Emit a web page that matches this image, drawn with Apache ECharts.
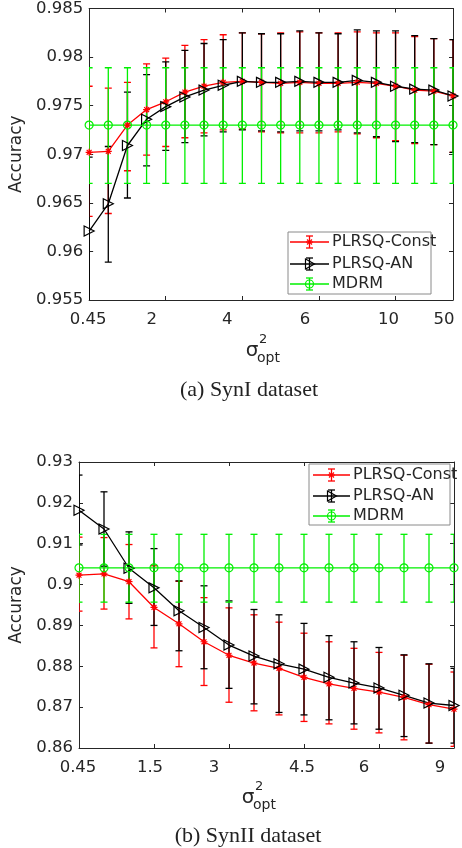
<!DOCTYPE html>
<html>
<head>
<meta charset="utf-8">
<script src="https://cdn.jsdelivr.net/npm/echarts@6.0.0/dist/echarts.min.js"></script>
<style>
html,body{margin:0;padding:0;background:#fff;}
#chart{width:462px;height:848px;}
</style>
</head>
<body>
<div id="chart"></div>
<script>
// ---------- DATA ----------
// (a) SynI dataset : 20 sigma^2_opt settings
const topCategories = ['0.45','','','','2','','','','4','','','','6','','','','10','','','50'];
const topConstMean  = [0.9702,0.9703,0.9730,0.9746,0.9754,0.9764,0.9770,0.9774,0.9775,0.9774,0.9773,0.9774,0.9773,0.9773,0.9774,0.9773,0.9770,0.9766,0.9765,0.9760];
const topConstUpper = [0.9770,0.9768,0.9774,0.9793,0.9799,0.9812,0.9818,0.9823,0.9825,0.9824,0.9825,0.9826,0.9825,0.9825,0.9826,0.9825,0.9825,0.9821,0.9819,0.9818];
const topConstLower = [0.9636,0.9639,0.9683,0.9699,0.9708,0.9717,0.9722,0.9725,0.9726,0.9723,0.9722,0.9722,0.9722,0.9723,0.9721,0.9717,0.9714,0.9711,0.9710,0.9702];
const topAnMean     = [0.9621,0.9649,0.9709,0.9736,0.9749,0.9759,0.9766,0.9771,0.9775,0.9774,0.9774,0.9775,0.9774,0.9774,0.9776,0.9774,0.9770,0.9767,0.9766,0.9760];
const topAnUpper    = [0.9697,0.9708,0.9764,0.9782,0.9795,0.9807,0.9814,0.9818,0.9825,0.9824,0.9824,0.9827,0.9825,0.9824,0.9828,0.9827,0.9827,0.9822,0.9819,0.9818];
const topAnLower    = [0.9545,0.9589,0.9655,0.9688,0.9704,0.9712,0.9719,0.9723,0.9725,0.9724,0.9723,0.9724,0.9724,0.9725,0.9722,0.9718,0.9713,0.9712,0.9710,0.9702];
const topMdrmMean   = [0.9730,0.9730,0.9730,0.9730,0.9730,0.9730,0.9730,0.9730,0.9730,0.9730,0.9730,0.9730,0.9730,0.9730,0.9730,0.9730,0.9730,0.9730,0.9730,0.9730];
const topMdrmUpper  = [0.9789,0.9789,0.9789,0.9789,0.9789,0.9789,0.9789,0.9789,0.9789,0.9789,0.9789,0.9789,0.9789,0.9789,0.9789,0.9789,0.9789,0.9789,0.9789,0.9789];
const topMdrmLower  = [0.9670,0.9670,0.9670,0.9670,0.9670,0.9670,0.9670,0.9670,0.9670,0.9670,0.9670,0.9670,0.9670,0.9670,0.9670,0.9670,0.9670,0.9670,0.9670,0.9670];

// (b) SynII dataset : 16 sigma^2_opt settings
const botCategories = ['0.45','','','1.5','','','3','','','4.5','','','6','','','9'];
const botConstMean  = [0.9023,0.9026,0.9007,0.8944,0.8904,0.8860,0.8827,0.8808,0.8795,0.8773,0.8757,0.8746,0.8737,0.8724,0.8706,0.8695];
const botConstUpper = [0.9116,0.9115,0.9098,0.9046,0.9008,0.8968,0.8943,0.8926,0.8908,0.8881,0.8860,0.8844,0.8834,0.8827,0.8805,0.8786];
const botConstLower = [0.8935,0.8940,0.8916,0.8845,0.8799,0.8753,0.8712,0.8691,0.8681,0.8665,0.8659,0.8646,0.8637,0.8620,0.8612,0.8604];
const botAnMean     = [0.9182,0.9136,0.9040,0.8992,0.8936,0.8895,0.8852,0.8825,0.8806,0.8793,0.8773,0.8759,0.8747,0.8729,0.8710,0.8704];
const botAnUpper    = [0.9268,0.9227,0.9129,0.9088,0.9009,0.8997,0.8960,0.8939,0.8926,0.8905,0.8875,0.8860,0.8846,0.8828,0.8806,0.8795];
const botAnLower    = [0.9097,0.9045,0.8954,0.8900,0.8838,0.8794,0.8746,0.8708,0.8687,0.8681,0.8669,0.8659,0.8646,0.8628,0.8612,0.8612];
const botMdrmMean   = [0.9041,0.9041,0.9041,0.9041,0.9041,0.9041,0.9041,0.9041,0.9041,0.9041,0.9041,0.9041,0.9041,0.9041,0.9041,0.9041];
const botMdrmUpper  = [0.9123,0.9123,0.9123,0.9123,0.9123,0.9123,0.9123,0.9123,0.9123,0.9123,0.9123,0.9123,0.9123,0.9123,0.9123,0.9123];
const botMdrmLower  = [0.8957,0.8957,0.8957,0.8957,0.8957,0.8957,0.8957,0.8957,0.8957,0.8957,0.8957,0.8957,0.8957,0.8957,0.8957,0.8957];

const seriesNames = ['PLRSQ-Const','PLRSQ-AN','MDRM'];
const topCaption = '(a) SynI dataset';
const botCaption = '(b) SynII dataset';
const yTitle = 'Accuracy';

// ---------- STYLE ----------
const FONT = 'DejaVu Sans';
const AXC = '#262626';
const RED = '#ff0000', BLACK = '#000000', GREEN = '#00f000';
const TICKFS = 16.5;
// horizontal nudge (px, to the left) of x tick labels, by label order
const topLabelShift = [1,14,15,14,7,9];
const botLabelShift = [1,4,15,2,15,14];

function labelRich(cats, shifts) {
  const rich = {};
  let k = 0;
  cats.forEach((c, i) => {
    if (c !== '') {
      rich['o' + i] = {fontFamily: FONT, fontSize: TICKFS, color: AXC, padding: [0, 2 * shifts[k], 0, 0]};
      k++;
    }
  });
  return rich;
}

function xAxes(gridIndex, cats, shifts) {
  const shown = (i) => cats[i] !== '';
  const base = {
    type: 'category', gridIndex, data: cats, boundaryGap: false,
    axisLine: {show: true, onZero: false, lineStyle: {color: AXC, width: 1}},
    axisTick: {show: true, inside: true, length: 4, interval: (i) => shown(i), lineStyle: {color: AXC, width: 1}},
    splitLine: {show: false}
  };
  return [
    Object.assign({}, base, {
      position: 'bottom',
      axisLabel: {show: true, interval: (i) => shown(i), margin: 11, fontFamily: FONT, fontSize: TICKFS, color: AXC,
        formatter: (v, i) => '{o' + i + '|' + v + '}', rich: labelRich(cats, shifts)}
    }),
    Object.assign({}, base, {position: 'top', axisLabel: {show: false}})
  ];
}

function fmtY(dec) { return (v) => String(parseFloat(v.toFixed(dec))); }

function yAxes(gridIndex, min, max, interval, dec, gap) {
  const base = {
    type: 'value', gridIndex, min, max, interval,
    axisLine: {show: true, onZero: false, lineStyle: {color: AXC, width: 1}},
    axisTick: {show: true, inside: true, length: 4, lineStyle: {color: AXC, width: 1}},
    splitLine: {show: false}
  };
  return [
    Object.assign({}, base, {
      position: 'left',
      axisLabel: {show: true, margin: 6, fontFamily: FONT, fontSize: TICKFS, color: AXC, formatter: fmtY(dec), showMinLabel: true, showMaxLabel: true},
      name: yTitle, nameLocation: 'middle', nameGap: gap,
      nameTextStyle: {fontFamily: FONT, fontSize: 17, color: AXC}
    }),
    Object.assign({}, base, {position: 'right', axisLabel: {show: false}})
  ];
}

function errSeries(xi, yi, lower, upper, color) {
  return {
    type: 'custom', xAxisIndex: xi, yAxisIndex: yi, clip: true, silent: true,
    data: lower.map((l, i) => [i, l, upper[i]]),
    encode: {x: 0, y: [1, 2]},
    renderItem: (params, api) => {
      const x = api.value(0);
      const lo = api.coord([x, api.value(1)]);
      const hi = api.coord([x, api.value(2)]);
      const st = {stroke: color, lineWidth: 1.3};
      const c = 3.5;
      return {type: 'group', children: [
        {type: 'line', shape: {x1: lo[0], y1: lo[1], x2: hi[0], y2: hi[1]}, style: st},
        {type: 'line', shape: {x1: lo[0] - c, y1: lo[1], x2: lo[0] + c, y2: lo[1]}, style: st},
        {type: 'line', shape: {x1: hi[0] - c, y1: hi[1], x2: hi[0] + c, y2: hi[1]}, style: st}
      ]};
    }
  };
}

const STAR = 'path://M0,5 L10,5 M5,0 L5,10 M1.5,1.5 L8.5,8.5 M8.5,1.5 L1.5,8.5';
const TRI = 'path://M0,0 L9,5 L0,10 Z';

function lineSeries(xi, yi, mean, color, symbol, size, name) {
  return {
    type: 'line', name, xAxisIndex: xi, yAxisIndex: yi, silent: true,
    data: mean.map((v, i) => [i, v]),
    symbol, symbolSize: size, showSymbol: true, clip: true,
    lineStyle: {color, width: 1.3},
    itemStyle: {color: 'rgba(0,0,0,0)', borderColor: color, borderWidth: 1.2}
  };
}

// ---------- GRAPHIC helpers (legend, axis title, captions) ----------
function gLine(x1, y1, x2, y2, color, w) {
  return {type: 'line', z: 100, shape: {x1, y1, x2, y2}, style: {stroke: color, lineWidth: w || 1.3}};
}
function gText(x, y, text, size, family, align, color) {
  return {type: 'text', z: 100, x, y, style: {text, fontSize: size, fontFamily: family, fill: color || AXC, align: align || 'left', verticalAlign: 'middle'}};
}
function marker(kind, cx, cy, color) {
  if (kind === 'star') {
    const r = 3.5, d = 2.5;
    return [gLine(cx - r, cy, cx + r, cy, color, 1.1), gLine(cx, cy - r, cx, cy + r, color, 1.1),
            gLine(cx - d, cy - d, cx + d, cy + d, color, 1.1), gLine(cx - d, cy + d, cx + d, cy - d, color, 1.1)];
  }
  if (kind === 'tri') {
    return [{type: 'polygon', z: 100, shape: {points: [[cx - 4, cy - 5], [cx + 5, cy], [cx - 4, cy + 5]]}, style: {fill: 'none', stroke: color, lineWidth: 1.2}}];
  }
  return [{type: 'circle', z: 100, shape: {cx, cy, r: 4}, style: {fill: 'none', stroke: color, lineWidth: 1.2}}];
}
function legend(box, lx1, lx2, tx, rows) {
  const els = [{type: 'rect', z: 99, shape: {x: box[0], y: box[1], width: box[2], height: box[3]}, style: {fill: '#fff', stroke: '#8a8a8a', lineWidth: 1}}];
  const kinds = ['star', 'tri', 'circ'];
  const cols = [RED, BLACK, GREEN];
  const mx = (lx1 + lx2) / 2;
  rows.forEach((y, i) => {
    els.push(gLine(lx1, y, lx2, y, cols[i]));
    els.push(gLine(mx, y - 6, mx, y + 6, cols[i]));
    els.push(gLine(mx - 3.5, y - 6, mx + 3.5, y - 6, cols[i]));
    els.push(gLine(mx - 3.5, y + 6, mx + 3.5, y + 6, cols[i]));
    marker(kinds[i], mx, y, cols[i]).forEach(e => els.push(e));
    els.push(gText(tx, y, seriesNames[i], 16, FONT));
  });
  return els;
}
function sigmaLabel(cx, cy) {
  return [
    gText(cx, cy, 'σ', 20, FONT, 'center'),
    gText(cx + 7, cy - 11, '2', 13, FONT, 'left'),
    gText(cx + 5, cy + 7, 'opt', 14, FONT, 'left')
  ];
}

const graphics = [].concat(
  legend([288, 232, 143, 62], 290, 329, 332, [242, 264, 284]),
  legend([309, 464, 141, 61], 313, 350, 353, [475, 496, 516]),
  sigmaLabel(252, 351),
  sigmaLabel(248, 798),
  [gText(249, 390, topCaption, 22, 'Liberation Serif', 'center', '#222'),
   gText(248, 836, botCaption, 22, 'Liberation Serif', 'center', '#222')]
);

const option = {
  animation: false,
  backgroundColor: '#fff',
  grid: [
    {left: 77, right: 9, top: 8, bottom: 548, containLabel: false},
    {left: 67, right: 8, top: 462, bottom: 100, containLabel: false}
  ],
  xAxis: [].concat(xAxes(0, topCategories, topLabelShift), xAxes(1, botCategories, botLabelShift)),
  yAxis: [].concat(yAxes(0, 0.955, 0.985, 0.005, 3, 64), yAxes(1, 0.86, 0.93, 0.01, 2, 54)),
  series: [
    errSeries(0, 0, topConstLower, topConstUpper, RED),
    lineSeries(0, 0, topConstMean, RED, STAR, 7, seriesNames[0]),
    errSeries(0, 0, topAnLower, topAnUpper, BLACK),
    lineSeries(0, 0, topAnMean, BLACK, TRI, 10, seriesNames[1]),
    errSeries(0, 0, topMdrmLower, topMdrmUpper, GREEN),
    lineSeries(0, 0, topMdrmMean, GREEN, 'circle', 8, seriesNames[2]),

    errSeries(2, 2, botConstLower, botConstUpper, RED),
    lineSeries(2, 2, botConstMean, RED, STAR, 7, seriesNames[0]),
    errSeries(2, 2, botAnLower, botAnUpper, BLACK),
    lineSeries(2, 2, botAnMean, BLACK, TRI, 10, seriesNames[1]),
    errSeries(2, 2, botMdrmLower, botMdrmUpper, GREEN),
    lineSeries(2, 2, botMdrmMean, GREEN, 'circle', 8, seriesNames[2])
  ],
  graphic: graphics
};

const chart = echarts.init(document.getElementById('chart'), null, {renderer: 'canvas'});
chart.setOption(option);
</script>
</body>
</html>
